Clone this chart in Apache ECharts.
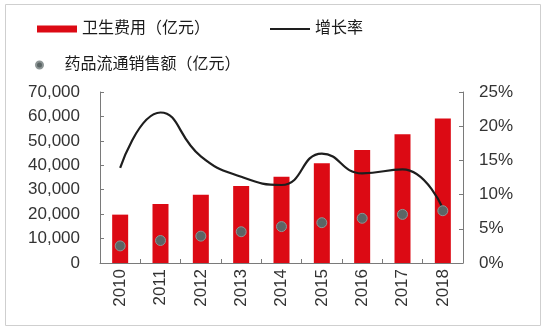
<!DOCTYPE html>
<html>
<head>
<meta charset="utf-8">
<script src="https://cdn.jsdelivr.net/npm/echarts@6/dist/echarts.min.js"></script>
<style>html,body{margin:0;padding:0;background:#fff;}#c{width:546px;height:330px;}</style>
</head>
<body>
<div id="c"></div>
<script>
const categories = ['2010','2011','2012','2013','2014','2015','2016','2017','2018'];
const healthExp = [19800, 24200, 27900, 31500, 35300, 40800, 46300, 52700, 59200];
const drugSales = [7000, 9200, 11000, 12800, 14900, 16500, 18300, 19900, 21400];
const growthRate = [13.9, 22.0, 15.6, 12.6, 11.4, 16.0, 13.1, 13.7, 8.0];
const leftTicks = [0, 70000, 10000];
const rightTicks = [0, 25, 5];

const FONT = "'Liberation Sans', 'Noto Sans CJK SC', sans-serif";
const chart = echarts.init(document.getElementById('c'), null, {renderer: 'canvas'});
const axisColor = '#7a7a7a';
const textColor = '#333333';
chart.setOption({
  animation: false,
  textStyle: {fontFamily: FONT},
  graphic: [{
    type: 'rect', shape: {x: 5.5, y: 4.5, width: 535, height: 321},
    style: {fill: 'none', stroke: '#cfcfcf', lineWidth: 1}, silent: true, z: 0
  }],
  legend: [
    {data: ['卫生费用（亿元）'], left: 32, top: 16, icon: 'rect', itemWidth: 40, itemHeight: 7, itemGap: 0,
     textStyle: {fontSize: 16, color: '#1a1a1a', fontFamily: FONT}},
    {data: ['增长率'], left: 265, top: 16, icon: 'rect', itemWidth: 40, itemHeight: 2, itemGap: 0,
     textStyle: {fontSize: 16, color: '#1a1a1a', fontFamily: FONT}},
    {data: ['药品流通销售额（亿元）'], left: 30, top: 52, icon: 'circle', itemWidth: 40, itemHeight: 7, itemGap: 0,
     textStyle: {fontSize: 16, color: '#1a1a1a', fontFamily: FONT}}
  ],
  grid: {left: 100, right: 83, top: 92, bottom: 67, outerBoundsMode: 'none'},
  xAxis: {
    type: 'category', data: categories,
    axisLine: {lineStyle: {color: axisColor, width: 1}},
    axisTick: {show: true, inside: true, length: 4, alignWithLabel: false, lineStyle: {color: axisColor}},
    axisLabel: {rotate: 90, fontSize: 17, color: textColor, margin: 6, fontFamily: FONT}
  },
  yAxis: [{
    type: 'value', min: leftTicks[0], max: leftTicks[1], interval: leftTicks[2],
    axisLine: {show: true, lineStyle: {color: axisColor}},
    axisTick: {show: true, inside: true, length: 4, lineStyle: {color: axisColor}},
    splitLine: {show: false},
    axisLabel: {fontSize: 17, color: textColor, margin: 20, fontFamily: FONT,
      formatter: v => v.toLocaleString('en-US')}
  }, {
    type: 'value', min: rightTicks[0], max: rightTicks[1], interval: rightTicks[2], position: 'right',
    axisLine: {show: true, lineStyle: {color: axisColor}},
    axisTick: {show: true, inside: true, length: 4, lineStyle: {color: axisColor}},
    splitLine: {show: false},
    axisLabel: {fontSize: 17, color: textColor, margin: 16, fontFamily: FONT, formatter: '{value}%'}
  }],
  series: [
    {name: '卫生费用（亿元）', type: 'bar', data: healthExp, barWidth: 16,
     itemStyle: {color: '#dc0a14'}, z: 2},
    {name: '增长率', type: 'line', yAxisIndex: 1, data: growthRate, smooth: true, symbol: 'none',
     lineStyle: {color: '#1e1e1e', width: 2.2}, itemStyle: {color: '#1e1e1e'}, z: 3},
    {name: '药品流通销售额（亿元）', type: 'scatter', data: drugSales, symbolSize: 10,
     itemStyle: {color: '#5b6565', borderColor: '#8d9595', borderWidth: 1, opacity: 1}, z: 4}
  ]
});
</script>
</body>
</html>
